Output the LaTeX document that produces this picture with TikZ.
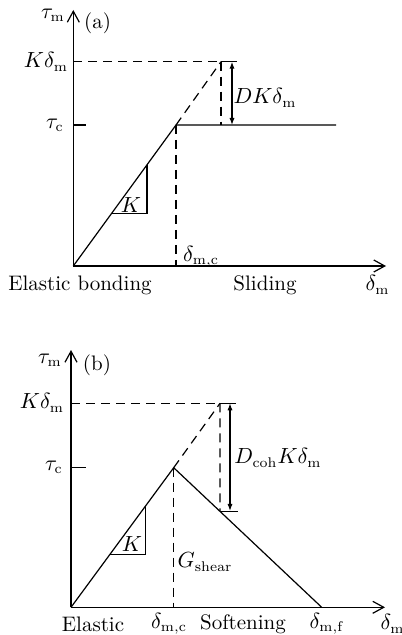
\documentclass[tikz,border=0pt]{standalone}
\usetikzlibrary{arrows.meta,calc}
\begin{document}
\begin{tikzpicture}[x=0.5pt,y=-0.5pt,
  every node/.style={font=\fontsize{10.5}{12}\selectfont, inner sep=0pt},
  ln/.style={line width=0.6pt},
  dsh/.style={line width=0.6pt, dash pattern=on 4.5pt off 3pt},
  axis/.style={line width=0.6pt, -{Straight Barb[length=5.5pt,width=6pt]}},
  dimarr/.style={line width=0.6pt, {Latex[length=3.5pt,width=2.6pt]}-{Latex[length=3.5pt,width=2.6pt]}}]
\useasboundingbox (0,0) rectangle (401,635);

% ---------------- panel (a) ----------------
\coordinate (Oa) at (73.3,266);
\coordinate (Ya) at (73.3,10);
\coordinate (Xa) at (386,266);
\coordinate (Ca) at (176,125);
\coordinate (Pa) at (221,61.7);
\coordinate (Ea) at (336,125);
\coordinate (KLa) at (73.3,61.7);
\coordinate (KRa) at (237,61.7);
\coordinate (TLa) at (73.3,125);
\coordinate (TRa) at (85.7,125);
\coordinate (PBa) at (221,125);
\coordinate (DCa) at (176,266);
\coordinate (ATa) at (232,61.7);
\coordinate (ABa) at (232,125);

\draw[axis] (Oa) -- (Ya);
\draw[axis] (Oa) -- (Xa);
\draw[dsh] (KLa) -- (Pa);
\draw[ln] (Pa) -- (KRa);
\draw[ln] (TLa) -- (TRa);
\draw[ln] (Oa) -- (Ca) -- (Ea);
\draw[dsh] (Ca) -- (Pa);
\draw[dsh] (Pa) -- (PBa);
\draw[dsh] (Ca) -- (DCa);
\draw[dimarr] (ATa) -- (ABa);
\coordinate (KAa) at ($(Oa)!0.374!(Ca)$);
\coordinate (KBa) at ($(Oa)!0.718!(Ca)$);
\draw[ln] (KAa) -- (KAa -| KBa) -- (KBa);

\node (taua) at (53,15) {$\tau_\mathrm{m}$};
\node (laba) at (97.5,23) {(a)};
\node (kda) at (46,62) {$K\delta_\mathrm{m}$};
\node (tca) at (55,125) {$\tau_\mathrm{c}$};
\node (dka) at (265,98) {$DK\delta_\mathrm{m}$};
\node (dmca) at (201,257) {$\delta_\mathrm{m,c}$};
\node (ka) at (131,205) {$K$};
\node (eba) at (80,285) {Elastic bonding};
\node (sla) at (265,285) {Sliding};
\node (dma) at (377.5,285) {$\delta_\mathrm{m}$};

% ---------------- panel (b) ----------------
\coordinate (Ob) at (71,607.3);
\coordinate (Yb) at (71,350);
\coordinate (Xb) at (385,607.3);
\coordinate (Cb) at (173.7,467.7);
\coordinate (Pb) at (220,403.3);
\coordinate (Fb) at (321.7,607.3);
\coordinate (KLb) at (71,403.3);
\coordinate (KRb) at (236,403.3);
\coordinate (TLb) at (71,467.7);
\coordinate (TRb) at (85.7,467.7);
\coordinate (Qb) at ($(Cb)!{(220-173.7)/(321.7-173.7)}!(Fb)$);
\coordinate (QRb) at ($(Qb)+(17.7,0)$);
\coordinate (DCb) at (173.7,607.3);
\coordinate (ATb) at (230,403.3);
\coordinate (ABb) at (230,510.9);

\draw[axis] (Ob) -- (Yb);
\draw[axis] (Ob) -- (Xb);
\draw[dsh] (KLb) -- (Pb);
\draw[ln] (Pb) -- (KRb);
\draw[ln] (TLb) -- (TRb);
\draw[ln] (Ob) -- (Cb) -- (Fb);
\draw[dsh] (Cb) -- (Pb);
\draw[dsh] (Pb) -- (Qb);
\draw[ln] (Qb) -- (QRb);
\draw[dsh] (Cb) -- (DCb);
\draw[dimarr] (ATb) -- (ABb);
\coordinate (KAb) at ($(Ob)!0.38!(Cb)$);
\coordinate (KBb) at ($(Ob)!0.727!(Cb)$);
\draw[ln] (KAb) -- (KAb -| KBb) -- (KBb);

\node (taub) at (50,360) {$\tau_\mathrm{m}$};
\node (labb) at (97,365) {(b)};
\node (kdb) at (42,403) {$K\delta_\mathrm{m}$};
\node (tcb) at (54,467) {$\tau_\mathrm{c}$};
\node (dkb) at (278,458) {$D_\mathrm{coh}K\delta_\mathrm{m}$};
\node (kb) at (132,544) {$K$};
\node (gb) at (205,562) {$G_\mathrm{shear}$};
\node (elb) at (93,624) {Elastic};
\node (dmcb) at (169,624) {$\delta_\mathrm{m,c}$};
\node (sob) at (243,624) {Softening};
\node (dmfb) at (327,624) {$\delta_\mathrm{m,f}$};
\node (dmb) at (392.5,624) {$\delta_\mathrm{m}$};
\end{tikzpicture}
\end{document}
